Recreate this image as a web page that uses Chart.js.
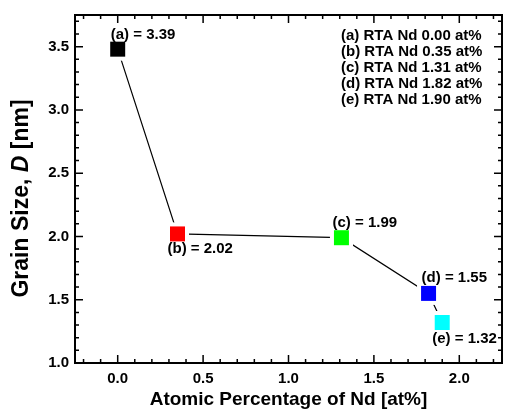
<!DOCTYPE html>
<html><head><meta charset="utf-8">
<script src="https://cdn.jsdelivr.net/npm/chart.js@4/dist/chart.umd.min.js"></script>
<style>html,body{margin:0;padding:0;background:#fff;}#wrap{width:505px;height:413px;position:relative;}</style>
</head><body><div id="wrap"><canvas id="c"></canvas></div>
<script>
// ---- data ----
const ndPercent   = [0.00, 0.35, 1.31, 1.82, 1.90];
const grainSize   = [3.48, 2.02, 1.99, 1.55, 1.32];
const pointLabels = ['(a) = 3.39', '(b) = 2.02', '(c) = 1.99', '(d) = 1.55', '(e) = 1.32'];
const pointColors = ['#000000', '#ff0000', '#00ff00', '#0000ff', '#00ffff'];
const legendLines = ['(a) RTA Nd 0.00 at%', '(b) RTA Nd 0.35 at%', '(c) RTA Nd 1.31 at%', '(d) RTA Nd 1.82 at%', '(e) RTA Nd 1.90 at%'];
const xTickValues = [0.0, 0.5, 1.0, 1.5, 2.0];
const yTickValues = [1.0, 1.5, 2.0, 2.5, 3.0, 3.5];
const xTitle = 'Atomic Percentage of Nd [at%]';
const yTitleParts = ['Grain Size, ', 'D', ' [nm]'];

// ---- styles ----
const FONT = 'Arial, "Liberation Sans", sans-serif';
const labelPlacement = [ {dx:-7, dy:-14}, {dx:-10, dy:15}, {dx:-9, dy:-15.3}, {dx:-7, dy:-15.5}, {dx:-10, dy:16.3} ];

const pts = ndPercent.map((x, i) => ({x, y: grainSize[i]}));

const framePlugin = {
  id: 'frame',
  afterDatasetsDraw(chart) {
    const {ctx, chartArea: a, scales: {x, y}} = chart;
    ctx.save();
    // point annotations
    ctx.fillStyle = '#000';
    ctx.font = 'bold 15px ' + FONT;
    ctx.textAlign = 'left';
    ctx.textBaseline = 'middle';
    pts.forEach((p, i) => {
      const px = x.getPixelForValue(p.x), py = y.getPixelForValue(p.y);
      ctx.fillText(pointLabels[i], px + labelPlacement[i].dx, py + labelPlacement[i].dy);
    });
    // legend text block
    legendLines.forEach((t, i) => {
      ctx.fillText(t, 341, 36 + i * 16);
    });
    // frame
    ctx.strokeStyle = '#000';
    ctx.lineWidth = 2;
    ctx.strokeRect(a.left, a.top, a.right - a.left, a.bottom - a.top);
    // ticks (inward, all four sides)
    ctx.lineWidth = 1.5;
    ctx.beginPath();
    for (let k = -2; k <= 22; k++) {
      const px = x.getPixelForValue(k / 10);
      if (px <= a.left + 1 || px >= a.right - 1) continue;
      const len = (k % 5 === 0) ? 8 : 4;
      ctx.moveTo(px, a.bottom); ctx.lineTo(px, a.bottom - len);
      ctx.moveTo(px, a.top); ctx.lineTo(px, a.top + len);
    }
    for (let k = 10; k <= 37; k++) {
      const py = y.getPixelForValue(k / 10);
      if (py <= a.top + 1 || py >= a.bottom - 1) continue;
      const len = (k % 5 === 0) ? 8 : 4;
      ctx.moveTo(a.left, py); ctx.lineTo(a.left + len, py);
      ctx.moveTo(a.right, py); ctx.lineTo(a.right - len, py);
    }
    ctx.stroke();
    // y axis title with italic D
    ctx.translate(22, 198.5);
    ctx.rotate(-Math.PI / 2);
    const fonts = ['bold 23px ' + FONT, 'italic bold 23px ' + FONT, 'bold 23px ' + FONT];
    const widths = yTitleParts.map((t, i) => { ctx.font = fonts[i]; return ctx.measureText(t).width; });
    const total = widths.reduce((s, w) => s + w, 0);
    let cx = -total / 2;
    yTitleParts.forEach((t, i) => { ctx.font = fonts[i]; ctx.fillText(t, cx, 0); cx += widths[i]; });
    ctx.restore();
  }
};

new Chart(document.getElementById('c'), {
  type: 'scatter',
  data: {
    datasets: [
      { data: pts, showLine: true, borderColor: '#000', borderWidth: 1.2, pointRadius: 0, order: 3 },
      { data: pts, showLine: false, pointStyle: 'rect', pointRadius: 16.3, backgroundColor: '#ffffff', borderWidth: 0, order: 2 },
      { data: pts, showLine: false, pointStyle: 'rect', pointRadius: 10.6, backgroundColor: pointColors, borderWidth: 0, order: 1 }
    ]
  },
  options: {
    responsive: true,
    maintainAspectRatio: false,
    animation: false,
    events: [],
    layout: { autoPadding: false, padding: { left: 0, top: 8, right: 3, bottom: 0 } },
    plugins: { legend: { display: false }, tooltip: { enabled: false } },
    scales: {
      x: {
        type: 'linear', min: -0.25, max: 2.25,
        afterBuildTicks: s => { s.ticks = xTickValues.map(v => ({value: v})); },
        afterFit: s => { s.height = 50; },
        grid: { display: false, drawTicks: false },
        border: { display: false },
        ticks: { color: '#000', padding: 7, font: { family: FONT, size: 15, weight: 'bold' }, callback: v => Number(v).toFixed(1) },
        title: { display: true, text: xTitle, color: '#000', font: { family: FONT, size: 19, weight: 'bold', lineHeight: 1 }, padding: { top: 0, bottom: 3.5 } }
      },
      y: {
        type: 'linear', min: 1.0, max: 3.75,
        afterBuildTicks: s => { s.ticks = yTickValues.map(v => ({value: v})); },
        afterFit: s => { s.width = 75; },
        grid: { display: false, drawTicks: false },
        border: { display: false },
        ticks: { color: '#000', padding: 6, font: { family: FONT, size: 15, weight: 'bold' }, callback: v => Number(v).toFixed(1) }
      }
    }
  },
  plugins: [framePlugin]
});
</script>
</body></html>
